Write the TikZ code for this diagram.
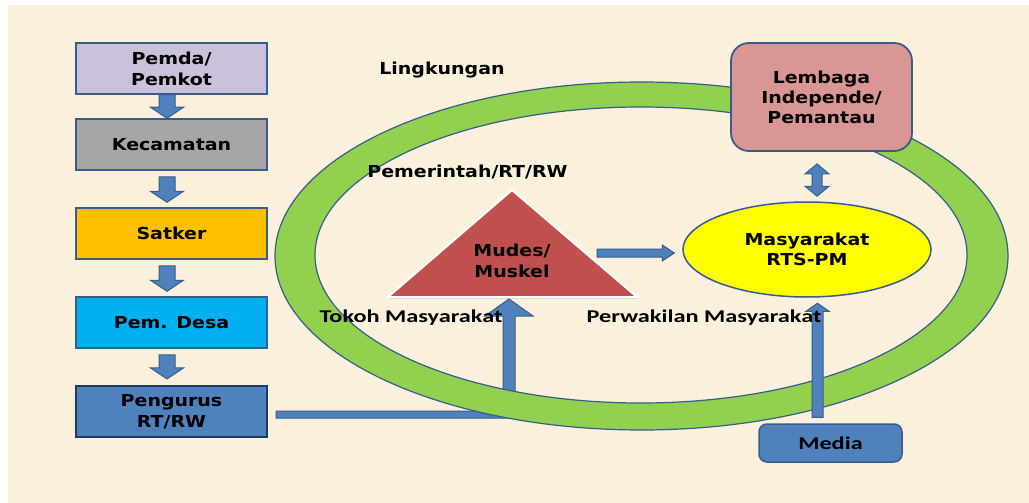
\documentclass[tikz,border=0pt]{standalone}
\usepackage{fontspec}
\usetikzlibrary{calc,shapes.geometric}
\newfontfamily\vfont{DejaVu Sans}[FakeStretch=1.15]
\newfontfamily\cfont{Carlito}[FakeStretch=1.35]
\definecolor{bgc}{HTML}{FAF0DC}
\definecolor{bordc}{HTML}{385D8A}
\definecolor{navy}{HTML}{1F3864}
\definecolor{lav}{HTML}{CCC1DA}
\definecolor{grayb}{HTML}{A6A6A6}
\definecolor{orng}{HTML}{FFC000}
\definecolor{cyanb}{HTML}{00B0F0}
\definecolor{blueb}{HTML}{4F81BD}
\definecolor{ringg}{HTML}{92D050}
\definecolor{pinkb}{HTML}{D99694}
\definecolor{trired}{HTML}{C0504D}
\definecolor{yel}{HTML}{FFFF00}
% block arrows (canvas coordinates; y of canvas points up)
\newcommand\downblk[5]{%
  \draw[blkarrow] let \p1=(#1), \p2=(#2) in
    (\x1-#3pt,\y1) -- (\x1+#3pt,\y1) -- (\x1+#3pt,\y2+#5pt) -- (\x1+#4pt,\y2+#5pt)
    -- (\x1,\y2) -- (\x1-#4pt,\y2+#5pt) -- (\x1-#3pt,\y2+#5pt) -- cycle;}
\newcommand\upblk[5]{%
  \draw[blkarrow] let \p1=(#1), \p2=(#2) in
    (\x1-#3pt,\y1) -- (\x1+#3pt,\y1) -- (\x1+#3pt,\y2-#5pt) -- (\x1+#4pt,\y2-#5pt)
    -- (\x1,\y2) -- (\x1-#4pt,\y2-#5pt) -- (\x1-#3pt,\y2-#5pt) -- cycle;}
\newcommand\rightblk[5]{%
  \draw[blkarrow] let \p1=(#1), \p2=(#2) in
    (\x1,\y1+#3pt) -- (\x2-#5pt,\y1+#3pt) -- (\x2-#5pt,\y1+#4pt) -- (\x2,\y1)
    -- (\x2-#5pt,\y1-#4pt) -- (\x2-#5pt,\y1-#3pt) -- (\x1,\y1-#3pt) -- cycle;}
\newcommand\dblblk[5]{%
  \draw[blkarrow] let \p1=(#1), \p2=(#2) in
    (\x1,\y1) -- (\x1+#4pt,\y1-#5pt) -- (\x1+#3pt,\y1-#5pt) -- (\x1+#3pt,\y2+#5pt)
    -- (\x1+#4pt,\y2+#5pt) -- (\x1,\y2) -- (\x1-#4pt,\y2+#5pt) -- (\x1-#3pt,\y2+#5pt)
    -- (\x1-#3pt,\y1-#5pt) -- (\x1-#4pt,\y1-#5pt) -- cycle;}
\begin{document}
\begin{tikzpicture}[x=1pt,y=-1pt,
  blkarrow/.style={fill=blueb, draw=bordc, line width=1pt, line join=miter},
  lbox/.style={draw=bordc, line width=1.5pt, minimum width=191pt, minimum height=51pt,
    inner sep=0pt, align=center, font=\vfont\bfseries\fontsize{16.5}{21}\selectfont},
  vtext/.style={inner sep=0pt, align=center, font=\vfont\bfseries\fontsize{16.5}{20.5}\selectfont},
  ctext/.style={inner sep=0pt, align=center, font=\cfont\bfseries\fontsize{18}{22}\selectfont}]
\useasboundingbox (0,0) rectangle (1029,503);
\fill[white] (0,0) rectangle (1029,503);
\fill[bgc] (8,5) rectangle (1029,503);

% left column
\node[lbox, fill=lav] (pemda) at (171.5,68.5) {Pemda/\\Pemkot};
\node[lbox, fill=grayb] (kec) at (171.5,144.5) {Kecamatan};
\node[lbox, fill=orng] (satker) at (171.5,233.5) {Satker};
\node[lbox, fill=cyanb] (desa) at (171.5,322.5) {Pem. Desa};
\node[lbox, fill=blueb, draw=navy, line width=2.2pt] (peng) at (171.5,411.5) {Pengurus\\RT/RW};

\downblk{$(pemda.south)+(-4.5,0)$}{$(kec.north)+(-4.5,0)$}{8}{16.5}{11}
\downblk{$(kec.south)+(-4.5,6)$}{$(satker.north)+(-4.5,-5)$}{8}{16.5}{11}
\downblk{$(satker.south)+(-4.5,6)$}{$(desa.north)+(-4.5,-5)$}{8}{16.5}{11}
\downblk{$(desa.south)+(-4.5,6)$}{$(peng.north)+(-4.5,-6)$}{8}{16.5}{11}

% triangle
\coordinate (tapex) at (512,190);
\coordinate (tbl) at (388,297);
\coordinate (tbr) at (637,297);
\coordinate (tbase) at (509,299);
\fill[black!22] ($(tapex)+(1.5,1.5)$) -- ($(tbr)+(1.5,1.5)$) -- ($(tbl)+(1.5,1.5)$) -- cycle;
\draw[white, line width=2pt, fill=trired, line join=miter] (tapex) -- (tbr) -- (tbl) -- cycle;

% elbow connector from Pengurus to triangle (under the ring)
\draw[blkarrow] let \p1=($(peng.east)+(8,0)$), \p2=(tbase) in
  (\x1,\y1+0.5pt) -- (\x2-6pt,\y1+0.5pt) -- (\x2-6pt,\y2-17pt) -- (\x2-24pt,\y2-17pt)
  -- (\x2,\y2) -- (\x2+24pt,\y2-17pt) -- (\x2+6pt,\y2-17pt) -- (\x2+6pt,\y1-6.5pt)
  -- (\x1,\y1-6.5pt) -- cycle;

% ring
\path[fill=ringg, draw=bordc, line width=1.2pt, even odd rule]
  (641.5,256) ellipse [x radius=366.5pt, y radius=174pt]
  (641,255) ellipse [x radius=326pt, y radius=148pt];

% right side nodes
\node[draw=bordc, line width=1.8pt, fill=pinkb, rounded corners=18pt,
  minimum width=181pt, minimum height=108pt, inner sep=0pt, align=center,
  font=\vfont\bfseries\fontsize{16.5}{20}\selectfont] (lem) at (821.5,97) {Lembaga\\Independe/\\Pemantau};
\node[ellipse, draw=bordc, line width=1.5pt, fill=yel, minimum width=248pt, minimum height=95pt,
  inner sep=0pt, align=center, font=\vfont\bfseries\fontsize{16.5}{20}\selectfont] (masy) at (807,249.5) {Masyarakat\\RTS-PM};
\node[draw=bordc, line width=1.5pt, fill=blueb, rounded corners=8pt, minimum width=143pt,
  minimum height=38pt, inner sep=0pt, font=\cfont\bfseries\fontsize{18}{22}\selectfont] (media) at (830.5,443) {Media};

\dblblk{$(lem.south)+(-4.5,12)$}{$(masy.north)+(0,-5)$}{5}{12}{10}
\rightblk{$(tapex)+(85,63)$}{$(masy.west)+(-8,3.5)$}{4}{8}{12}
\upblk{$(media.north)+(-13,-6)$}{$(masy.south)+(0,5.5)$}{5.5}{11.5}{8}

% labels
\node[vtext] (mudes) at (512,261) {Mudes/\\Muskel};
\node[vtext] (ling) at (442,70) {Lingkungan};
\node[vtext] (pemr) at (467.5,172) {Pemerintah/RT/RW};
\node[ctext] (tokoh) at (411,318) {Tokoh Masyarakat};
\node[ctext] (perw) at (704,318) {Perwakilan Masyarakat};
\end{tikzpicture}
\end{document}
